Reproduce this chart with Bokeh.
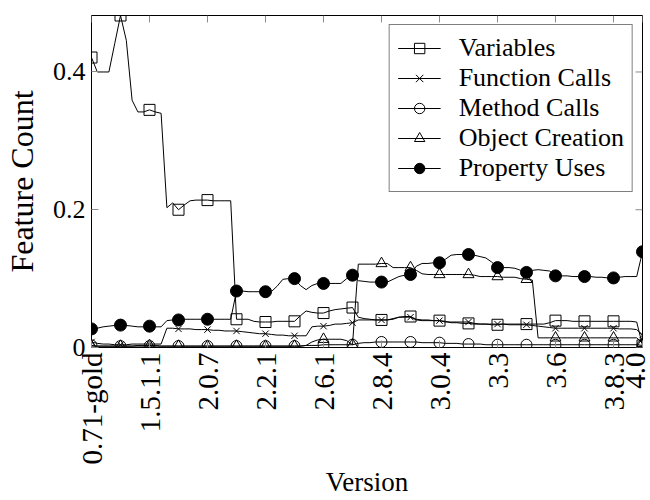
import math
from bokeh.plotting import figure
from bokeh.models import Range1d, FixedTicker, Legend, LegendItem
from bokeh.embed import file_html
from bokeh.resources import INLINE

# ---- data (one value per release, marks drawn every 5th release) ----
tick_index = [0, 10, 20, 30, 40, 50, 60, 70, 80, 90, 95]
tick_labels = ["0.71-gold", "1.5.1.1", "2.0.7", "2.2.1", "2.6.1", "2.8.4",
               "3.0.4", "3.3", "3.6", "3.8.3", "4.0"]

variables = [0.421, 0.400, 0.400, 0.400, 0.441, 0.482, 0.446, 0.359, 0.342, 0.342,
             0.345, 0.342, 0.340, 0.203, 0.210, 0.200, 0.207, 0.213, 0.214, 0.214,
             0.214, 0.213, 0.213, 0.213, 0.213, 0.041, 0.041, 0.041, 0.038, 0.037,
             0.037, 0.037, 0.038, 0.038, 0.038, 0.038, 0.046, 0.053, 0.051, 0.050,
             0.050, 0.053, 0.055, 0.056, 0.057, 0.058, 0.044, 0.042, 0.041, 0.040,
             0.040, 0.040, 0.042, 0.044, 0.045, 0.045, 0.041, 0.040, 0.040, 0.039,
             0.039, 0.038, 0.036, 0.036, 0.035, 0.035, 0.034, 0.034, 0.034, 0.033,
             0.033, 0.034, 0.034, 0.034, 0.034, 0.034, 0.034, 0.034, 0.034, 0.036,
             0.039, 0.039, 0.039, 0.038, 0.038, 0.038, 0.038, 0.038, 0.038, 0.038,
             0.038, 0.038, 0.038, 0.038, 0.037, 0.003]

function_calls = [0.008, 0.006, 0.005, 0.005, 0.004, 0.004, 0.004, 0.005, 0.005, 0.005,
                  0.005, 0.005, 0.005, 0.028, 0.028, 0.027, 0.027, 0.027, 0.026, 0.026,
                  0.026, 0.025, 0.025, 0.024, 0.024, 0.024, 0.023, 0.022, 0.021, 0.020,
                  0.020, 0.019, 0.018, 0.018, 0.017, 0.017, 0.017, 0.017, 0.030, 0.031,
                  0.031, 0.032, 0.034, 0.034, 0.035, 0.036, 0.040, 0.040, 0.040, 0.040,
                  0.040, 0.040, 0.041, 0.044, 0.044, 0.044, 0.040, 0.039, 0.039, 0.039,
                  0.039, 0.037, 0.037, 0.037, 0.037, 0.037, 0.035, 0.034, 0.034, 0.034,
                  0.034, 0.034, 0.033, 0.033, 0.033, 0.033, 0.032, 0.031, 0.030, 0.029,
                  0.028, 0.028, 0.028, 0.028, 0.028, 0.028, 0.028, 0.028, 0.028, 0.028,
                  0.028, 0.027, 0.027, 0.027, 0.026, 0.018]

method_calls = [0.003, 0.002, 0.002, 0.002, 0.002, 0.002, 0.002, 0.002, 0.002, 0.002,
                0.002, 0.002, 0.002, 0.002, 0.002, 0.002, 0.002, 0.002, 0.002, 0.002,
                0.002, 0.002, 0.002, 0.002, 0.002, 0.002, 0.002, 0.002, 0.002, 0.002,
                0.002, 0.002, 0.002, 0.002, 0.002, 0.002, 0.002, 0.003, 0.003, 0.003,
                0.004, 0.004, 0.004, 0.004, 0.004, 0.004, 0.006, 0.007, 0.007, 0.008,
                0.008, 0.008, 0.008, 0.008, 0.008, 0.008, 0.008, 0.007, 0.007, 0.007,
                0.007, 0.006, 0.006, 0.006, 0.005, 0.005, 0.005, 0.005, 0.004, 0.004,
                0.004, 0.004, 0.004, 0.004, 0.004, 0.004, 0.004, 0.004, 0.004, 0.004,
                0.004, 0.004, 0.004, 0.004, 0.004, 0.004, 0.004, 0.004, 0.004, 0.004,
                0.004, 0.004, 0.004, 0.004, 0.004, 0.003]

object_creation = [0.002, 0.002, 0.002, 0.002, 0.002, 0.002, 0.002, 0.002, 0.003, 0.003,
                   0.003, 0.003, 0.002, 0.002, 0.002, 0.002, 0.002, 0.002, 0.002, 0.002,
                   0.002, 0.002, 0.002, 0.002, 0.002, 0.002, 0.002, 0.002, 0.002, 0.002,
                   0.002, 0.002, 0.002, 0.002, 0.002, 0.002, 0.002, 0.003, 0.008, 0.011,
                   0.012, 0.012, 0.012, 0.012, 0.010, 0.004, 0.121, 0.121, 0.121, 0.121,
                   0.122, 0.122, 0.116, 0.116, 0.116, 0.116, 0.112, 0.107, 0.106, 0.106,
                   0.106, 0.106, 0.106, 0.106, 0.106, 0.106, 0.105, 0.103, 0.103, 0.103,
                   0.103, 0.102, 0.102, 0.102, 0.100, 0.099, 0.098, 0.014, 0.014, 0.014,
                   0.014, 0.014, 0.014, 0.014, 0.014, 0.014, 0.014, 0.014, 0.014, 0.014,
                   0.014, 0.014, 0.014, 0.014, 0.014, 0.006]

property_uses = [0.027, 0.028, 0.030, 0.031, 0.032, 0.0325, 0.032, 0.031, 0.030, 0.030,
                 0.031, 0.030, 0.030, 0.039, 0.040, 0.040, 0.041, 0.041, 0.041, 0.041,
                 0.041, 0.041, 0.041, 0.041, 0.041, 0.082, 0.082, 0.081, 0.081, 0.081,
                 0.081, 0.081, 0.089, 0.099, 0.100, 0.100, 0.090, 0.084, 0.090, 0.093,
                 0.093, 0.093, 0.093, 0.093, 0.100, 0.105, 0.097, 0.096, 0.095, 0.095,
                 0.095, 0.095, 0.099, 0.103, 0.105, 0.106, 0.118, 0.122, 0.122, 0.123,
                 0.123, 0.128, 0.134, 0.135, 0.135, 0.135, 0.134, 0.132, 0.130, 0.124,
                 0.116, 0.116, 0.116, 0.115, 0.112, 0.109, 0.112, 0.113, 0.112, 0.111,
                 0.104, 0.104, 0.104, 0.103, 0.103, 0.103, 0.103, 0.102, 0.102, 0.101,
                 0.101, 0.102, 0.103, 0.103, 0.103, 0.139]

y_ticks = [0, 0.2, 0.4]
y_tick_labels = ["0", "0.2", "0.4"]

series = [
    ("Variables", variables, "square", 11, None),
    ("Function Calls", function_calls, "x", 9, None),
    ("Method Calls", method_calls, "circle", 11, None),
    ("Object Creation", object_creation, "triangle", 11, None),
    ("Property Uses", property_uses, "circle", 12, "black"),
]

FONT = "Liberation Serif"
MARK_EVERY = 5
n = len(variables)
xs = list(range(n))
ymax = max(max(s[1]) for s in series)

p = figure(width=650, height=500, output_backend="svg", toolbar_location=None,
           x_range=Range1d(0, n - 1), y_range=Range1d(0, ymax),
           min_border_left=89, min_border_right=8, min_border_top=15,
           min_border_bottom=152)
p.background_fill_color = "white"
p.border_fill_color = "white"
p.outline_line_color = "black"
p.outline_line_width = 1
p.grid.visible = False

items = []
for name, vals, marker, size, fill in series:
    rl = p.line(xs, vals, line_color="black", line_width=1)
    rm = p.scatter(xs[::MARK_EVERY], vals[::MARK_EVERY], marker=marker, size=size,
                   line_color="black", line_width=1,
                   fill_color=fill, fill_alpha=1 if fill else 0)
    items.append(LegendItem(label=name, renderers=[rl, rm]))

TICK_COLOR = "#8c8c8c"

xa = p.xaxis[0]
xa.ticker = FixedTicker(ticks=tick_index)
xa.major_label_overrides = {t: l for t, l in zip(tick_index, tick_labels)}
xa.major_label_orientation = math.pi / 2
xa.major_label_text_font = FONT
xa.major_label_text_font_size = "29px"
xa.major_label_text_color = "black"
xa.major_label_standoff = 5
xa.axis_label = "Version"
xa.axis_label_text_font = FONT
xa.axis_label_text_font_size = "27px"
xa.axis_label_text_font_style = "normal"
xa.axis_label_text_color = "black"
xa.axis_label_standoff = 0

ya = p.yaxis[0]
ya.ticker = FixedTicker(ticks=y_ticks)
ya.major_label_overrides = {t: l for t, l in zip(y_ticks, y_tick_labels)}
ya.major_label_text_font = FONT
ya.major_label_text_font_size = "26px"
ya.major_label_text_color = "black"
ya.major_label_standoff = 6
ya.axis_label = "Feature Count"
ya.axis_label_text_font = FONT
ya.axis_label_text_font_size = "32px"
ya.axis_label_text_font_style = "normal"
ya.axis_label_text_color = "black"
ya.axis_label_standoff = 10

for ax in (xa, ya):
    ax.axis_line_color = None
    ax.major_tick_in = 7
    ax.major_tick_out = 0
    ax.major_tick_line_color = TICK_COLOR
    ax.minor_tick_line_color = None

# inward ticks on the top and right frame edges
p.ray(x=tick_index, y=[ymax] * len(tick_index), length=7, angle=-math.pi / 2,
      length_units="screen", line_color=TICK_COLOR, line_width=1)
p.ray(x=[n - 1] * len(y_ticks), y=y_ticks, length=7, angle=math.pi,
      length_units="screen", line_color=TICK_COLOR, line_width=1)

legend = Legend(items=items, location="top_right")
legend.label_text_font = FONT
legend.label_text_font_size = "26px"
legend.label_text_color = "black"
legend.glyph_width = 43
legend.glyph_height = 26
legend.label_height = 26
legend.label_standoff = 18
legend.spacing = 0
legend.padding = 8
legend.margin = 9
legend.border_line_color = "black"
legend.border_line_width = 1
legend.background_fill_color = "white"
legend.background_fill_alpha = 1
p.add_layout(legend)

open("out.html", "w").write(file_html(p, INLINE))
